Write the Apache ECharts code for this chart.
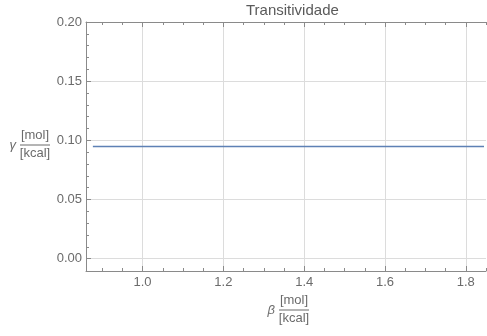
<!DOCTYPE html>
<html>
<head>
<meta charset="utf-8">
<script src="https://cdn.jsdelivr.net/npm/echarts@6/dist/echarts.min.js"></script>
<style>
  html, body { margin: 0; padding: 0; background: #fff; }
  #chart { width: 487px; height: 336px; }
</style>
</head>
<body>
<div id="chart"></div>
<script>
// Transitivity (gamma) as a function of beta
const xRange = [0.86, 1.85];
const yRange = [-0.0104, 0.2];
const xMajorTicks = [1.0, 1.2, 1.4, 1.6, 1.8];
const xMinorTicks = [0.9, 0.95, 1.05, 1.1, 1.15, 1.25, 1.3, 1.35, 1.45, 1.5, 1.55, 1.65, 1.7, 1.75, 1.85];
const yMajorTicks = [0.0, 0.05, 0.1, 0.15, 0.2];
const yMinorTicks = [0.01, 0.02, 0.03, 0.04, 0.06, 0.07, 0.08, 0.09, 0.11, 0.12, 0.13, 0.14, 0.16, 0.17, 0.18, 0.19];
const betaValues = [0.877, 1.0, 1.2, 1.4, 1.6, 1.8, 1.845];
const gammaValues = [0.0948, 0.0948, 0.0948, 0.0948, 0.0948, 0.0948, 0.0948];

const FONT = '"Liberation Sans", Arial, sans-serif';
const AXIS_COLOR = '#8a8a8a';
const LABEL_COLOR = '#6b6b6b';
const GRID_COLOR = '#dcdcdc';

function xAxisDef(position, ticks, tickLen, withLabels, withLine, withSplit) {
  return {
    type: 'value', position: position, min: xRange[0], max: xRange[1],
    axisLine: { show: withLine, onZero: false, lineStyle: { color: AXIS_COLOR, width: 1 } },
    axisTick: { show: true, inside: true, length: tickLen, customValues: ticks,
                lineStyle: { color: AXIS_COLOR, width: 1 } },
    axisLabel: { show: withLabels, customValues: ticks, margin: 5, color: LABEL_COLOR,
                 fontFamily: FONT, fontSize: 13, formatter: v => v.toFixed(1) },
    splitLine: { show: withSplit, lineStyle: { color: GRID_COLOR, width: 1 } }
  };
}
function yAxisDef(ticks, tickLen, withLabels, withLine, withSplit) {
  return {
    type: 'value', position: 'left', min: yRange[0], max: yRange[1],
    axisLine: { show: withLine, onZero: false, lineStyle: { color: AXIS_COLOR, width: 1 } },
    axisTick: { show: true, inside: true, length: tickLen, customValues: ticks,
                lineStyle: { color: AXIS_COLOR, width: 1 } },
    axisLabel: { show: withLabels, customValues: ticks, margin: 4, color: LABEL_COLOR,
                 fontFamily: FONT, fontSize: 13, formatter: v => v.toFixed(2) },
    splitLine: { show: withSplit, lineStyle: { color: GRID_COLOR, width: 1 } }
  };
}

const unitStyle = { fill: LABEL_COLOR, font: '13px ' + FONT };
function fractionLabel(x, y, symbol) {
  // symbol followed by the [mol]/[kcal] unit fraction; (x, y) is the fraction bar's left end
  return {
    type: 'group', x: x, y: y, silent: true,
    children: [
      { type: 'text', x: -4, y: 0, style: Object.assign({}, unitStyle,
          { text: symbol, font: 'italic 13px ' + FONT, align: 'right', verticalAlign: 'middle' }) },
      { type: 'text', x: 15, y: -3, style: Object.assign({}, unitStyle,
          { text: '[mol]', align: 'center', verticalAlign: 'bottom' }) },
      { type: 'line', shape: { x1: 0, y1: 0, x2: 30, y2: 0 },
        style: { stroke: LABEL_COLOR, lineWidth: 1 } },
      { type: 'text', x: 15, y: 2, style: Object.assign({}, unitStyle,
          { text: '[kcal]', align: 'center', verticalAlign: 'top' }) }
    ]
  };
}

const chart = echarts.init(document.getElementById('chart'), null, { renderer: 'canvas' });
chart.setOption({
  animation: false,
  backgroundColor: '#ffffff',
  title: {
    text: 'Transitividade', left: 241, top: -2,
    textStyle: { fontFamily: FONT, fontSize: 15, fontWeight: 'normal', color: '#5a5a5a' }
  },
  grid: { left: 86, right: 1, top: 22, bottom: 65, containLabel: false },
  xAxis: [
    xAxisDef('bottom', xMajorTicks, 5, true, true, true),
    xAxisDef('bottom', xMinorTicks, 3, false, false, false),
    xAxisDef('top', xMajorTicks, 5, false, true, false),
    xAxisDef('top', xMinorTicks, 3, false, false, false)
  ],
  yAxis: [
    yAxisDef(yMajorTicks, 5, true, true, true),
    yAxisDef(yMinorTicks, 3, false, false, false)
  ],
  graphic: [
    fractionLabel(20, 145, 'γ'),
    fractionLabel(279, 310, 'β')
  ],
  series: [{
    type: 'line',
    xAxisIndex: 0, yAxisIndex: 0,
    data: betaValues.map((b, i) => [b, gammaValues[i]]),
    showSymbol: false,
    lineStyle: { color: '#5e81b5', width: 1.5 },
    itemStyle: { color: '#5e81b5' }
  }]
});
</script>
</body>
</html>
